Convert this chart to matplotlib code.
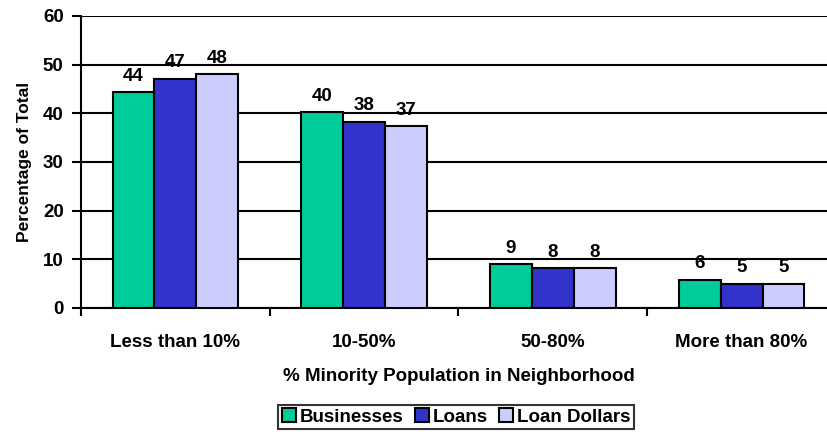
import numpy as np
from matplotlib import pyplot as plt

categories = ['Less than 10%', '10-50%', '50-80%', 'More than 80%']
series = ['Businesses', 'Loans', 'Loan Dollars']
businesses = [44.3, 40.2, 9.0, 5.8]
loans = [47.1, 38.3, 8.2, 5.0]
loan_dollars = [48.0, 37.4, 8.2, 5.0]
labels_b = [44, 40, 9, 6]
labels_l = [47, 38, 8, 5]
labels_d = [48, 37, 8, 5]
colors = ['#00CC99', '#3333CC', '#CCCCFF']

plt.rcParams['font.family'] = ['Liberation Sans', 'DejaVu Sans']
plt.rcParams['font.weight'] = 'bold'
fs = 13.5

fig = plt.figure(figsize=(8.28, 4.34), dpi=100)
ax = fig.add_axes([81/828, 1-308/434, 755/828, 292/434])

x = np.arange(len(categories))
w = 0.222
data = [businesses, loans, loan_dollars]
labs = [labels_b, labels_l, labels_d]
for i in range(3):
    bars = ax.bar(x + (i-1)*w, data[i], w, color=colors[i], edgecolor='black',
                  linewidth=1.5, label=series[i], zorder=3)
    for b, v, t in zip(bars, data[i], labs[i]):
        ax.annotate(str(t), (b.get_x()+b.get_width()/2, v), xytext=(0, 11.5),
                    textcoords='offset points', ha='center', va='center',
                    fontsize=fs, fontweight='bold', zorder=4)

ax.set_ylim(0, 60)
ax.set_xlim(-0.5, 3.5)
ax.set_yticks(range(0, 61, 10))
ax.yaxis.grid(True, color='black', linewidth=1.5, zorder=0)
ax.set_axisbelow(True)
ax.set_xticks(x - 0.5, minor=False)
ax.set_xticklabels([])
ax.set_xticks(x, minor=True)
ax.set_xticklabels(categories, minor=True, fontsize=fs, fontweight='bold')
ax.tick_params(axis='x', which='minor', length=0, pad=19)
ax.tick_params(axis='x', which='major', length=6, width=1.5, direction='out')
ax.tick_params(axis='y', length=6.5, width=1.5, direction='out', labelsize=fs, pad=6)
for s in ['top', 'right']:
    ax.spines[s].set_visible(False)
ax.spines['left'].set_linewidth(1.5)
ax.spines['bottom'].set_linewidth(1.5)

ax.set_ylabel('Percentage of Total', fontsize=12.5, fontweight='bold', labelpad=8)
ax.set_xlabel('% Minority Population in Neighborhood', fontsize=fs,
              fontweight='bold', labelpad=12)

leg = ax.legend(loc='center', bbox_to_anchor=(456/828, 1-417/434),
                bbox_transform=fig.transFigure, ncol=3, frameon=True,
                fancybox=False, edgecolor='black', handlelength=0.75,
                handleheight=0.75, handletextpad=0.2, columnspacing=0.6,
                borderpad=0.2, prop={'size': fs, 'weight': 'bold'})
leg.get_frame().set_linewidth(1.5)

fig.savefig('out.png', dpi=100)
